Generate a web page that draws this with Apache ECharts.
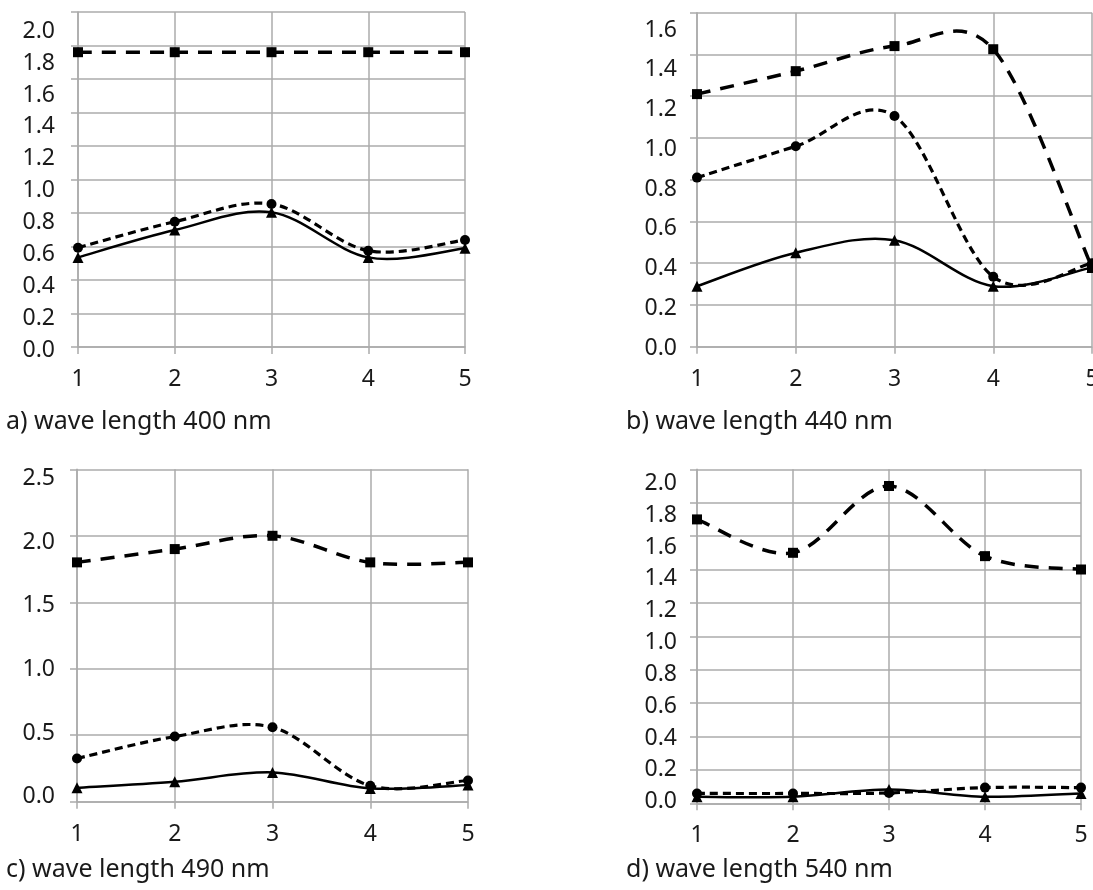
<!DOCTYPE html>
<html>
<head>
<meta charset="utf-8">
<script src="https://cdn.jsdelivr.net/npm/echarts@6/dist/echarts.min.js"></script>
<style>
html,body{margin:0;padding:0;background:#fff;}
#chart{width:1093px;height:890px;}
</style>
</head>
<body>
<div id="chart"></div>
<script>
// ---- data ----
const categories = ['1', '2', '3', '4', '5'];

const a_square   = [1.76, 1.76, 1.76, 1.76, 1.76];
const a_circle   = [0.593, 0.748, 0.854, 0.575, 0.639];
const a_triangle = [0.535, 0.698, 0.804, 0.535, 0.589];

const b_square   = [1.21, 1.32, 1.44, 1.425, 0.38];
const b_circle   = [0.81, 0.96, 1.105, 0.335, 0.40];
const b_triangle = [0.29, 0.45, 0.51, 0.29, 0.38];

const c_square   = [1.80, 1.90, 2.00, 1.80, 1.80];
const c_circle   = [0.325, 0.49, 0.56, 0.12, 0.16];
const c_triangle = [0.105, 0.15, 0.22, 0.10, 0.125];

const d_square   = [1.70, 1.50, 1.90, 1.48, 1.40];
const d_circle   = [0.059, 0.059, 0.062, 0.094, 0.094];
const d_triangle = [0.039, 0.039, 0.082, 0.039, 0.059];

const yTicksA = { min: 0, max: 2.0, interval: 0.2 };
const yTicksB = { min: 0, max: 1.6, interval: 0.2 };
const yTicksC = { min: 0, max: 2.5, interval: 0.5 };
const yTicksD = { min: 0, max: 2.0, interval: 0.2 };

const captions = ['a) wave length 400 nm', 'b) wave length 440 nm', 'c) wave length 490 nm', 'd) wave length 540 nm'];

// ---- layout ----
const FONT = 'Noto Sans';
const TEXT_COLOR = '#1a1a1a';
const GRID_COLOR = '#ababab';
const panels = [
  { grid: { left: 78,  top: 12,    width: 387, height: 335 },  labelGrid: { left: 78,  top: 31.3,  width: 387, height: 318.7 }, labelMargin: 23, ticks: yTicksA, data: [a_square, a_circle, a_triangle], cap: { x: 6,   y: 425 } },
  { grid: { left: 697, top: 12.7,  width: 395, height: 334 },  labelGrid: { left: 697, top: 30,    width: 395, height: 318.3 }, labelMargin: 20, ticks: yTicksB, data: [b_square, b_circle, b_triangle], cap: { x: 626, y: 425 } },
  { grid: { left: 77,  top: 469.3, width: 391, height: 332.4 },labelGrid: { left: 77,  top: 478.3, width: 391, height: 318.4 }, labelMargin: 22, ticks: yTicksC, data: [c_square, c_circle, c_triangle], cap: { x: 6,   y: 873 } },
  { grid: { left: 697, top: 469.3, width: 384, height: 334 },  labelGrid: { left: 697, top: 483.3, width: 384, height: 318.4 }, labelMargin: 20, ticks: yTicksD, data: [d_square, d_circle, d_triangle], cap: { x: 626, y: 873 } }
];

// Excel-like smoothed curve (Catmull-Rom bezier) drawn through the axis scales
function curveSeries(gi, vals, width, dash, z) {
  return {
    type: 'custom', xAxisIndex: gi, yAxisIndex: gi, z: z, silent: true,
    data: vals.map((v, k) => [k, v]),
    renderItem: function (params, api) {
      if (params.dataIndexInside !== 0) return null;
      const n = params.dataInsideLength;
      const pts = [];
      for (let j = 0; j < n; j++) pts.push(api.coord([api.value(0, j), api.value(1, j)]));
      let d = 'M' + pts[0][0] + ' ' + pts[0][1];
      for (let j = 0; j < n - 1; j++) {
        const p0 = pts[Math.max(j - 1, 0)], p1 = pts[j], p2 = pts[j + 1], p3 = pts[Math.min(j + 2, n - 1)];
        const c1x = p1[0] + (p2[0] - p0[0]) / 6, c1y = p1[1] + (p2[1] - p0[1]) / 6;
        const c2x = p2[0] - (p3[0] - p1[0]) / 6, c2y = p2[1] - (p3[1] - p1[1]) / 6;
        d += ' C' + c1x + ' ' + c1y + ' ' + c2x + ' ' + c2y + ' ' + p2[0] + ' ' + p2[1];
      }
      return {
        type: 'path',
        shape: { pathData: d },
        style: { fill: 'none', stroke: '#000', lineWidth: width, lineDash: dash, lineCap: 'butt' }
      };
    }
  };
}

function markerSeries(gi, vals, symbol, size, z) {
  return {
    type: 'line', xAxisIndex: gi, yAxisIndex: gi, data: vals, z: z, silent: true,
    symbol: symbol, symbolSize: size, showSymbol: true,
    itemStyle: { color: '#000' },
    lineStyle: { width: 0, opacity: 0 }
  };
}

const grids = [], xAxes = [], yAxes = [], series = [], graphics = [];

panels.forEach((p, i) => {
  const gi = grids.length;
  grids.push(Object.assign({ outerBoundsMode: 'none', containLabel: false }, p.grid));
  xAxes.push({
    type: 'category', gridIndex: gi, data: categories, boundaryGap: false,
    axisLine: { show: true, lineStyle: { color: GRID_COLOR, width: 1.5 } },
    axisTick: { show: true, length: 7, alignWithLabel: true, lineStyle: { color: GRID_COLOR, width: 1.5 } },
    axisLabel: { show: true, margin: 21, fontFamily: FONT, fontSize: 23, color: TEXT_COLOR },
    splitLine: { show: true, lineStyle: { color: GRID_COLOR, width: 1.5 } }
  });
  yAxes.push({
    type: 'value', gridIndex: gi, min: p.ticks.min, max: p.ticks.max, interval: p.ticks.interval,
    axisLine: { show: true, lineStyle: { color: GRID_COLOR, width: 1.5 } },
    axisTick: { show: true, length: 7, lineStyle: { color: GRID_COLOR, width: 1.5 } },
    axisLabel: { show: false },
    splitLine: { show: true, lineStyle: { color: GRID_COLOR, width: 1.5 } }
  });
  // label-only axis, placed as in the reference
  const li = grids.length;
  grids.push(Object.assign({ outerBoundsMode: 'none', containLabel: false }, p.labelGrid));
  xAxes.push({ type: 'category', gridIndex: li, data: categories, show: false });
  yAxes.push({
    type: 'value', gridIndex: li, min: p.ticks.min, max: p.ticks.max, interval: p.ticks.interval,
    axisLine: { show: false }, axisTick: { show: false }, splitLine: { show: false },
    axisLabel: { show: true, margin: p.labelMargin, fontFamily: FONT, fontSize: 23, color: TEXT_COLOR,
      formatter: v => v.toFixed(1) }
  });

  const [sq, ci, tr] = p.data;
  series.push(curveSeries(gi, tr, 2.5, null, 3));
  series.push(curveSeries(gi, ci, 3.2, [8, 5], 4));
  series.push(curveSeries(gi, sq, 3.5, [14, 10], 5));
  series.push(markerSeries(gi, tr, 'triangle', 11, 6));
  series.push(markerSeries(gi, ci, 'circle', 10, 6));
  series.push(markerSeries(gi, sq, 'rect', 10, 6));

  graphics.push({
    type: 'text', left: p.cap.x, top: p.cap.y - 16,
    style: { text: captions[i], font: '25px "Noto Sans"', fill: TEXT_COLOR }
  });
});

const chart = echarts.init(document.getElementById('chart'), null, { renderer: 'canvas' });
chart.setOption({
  animation: false,
  backgroundColor: '#ffffff',
  grid: grids,
  xAxis: xAxes,
  yAxis: yAxes,
  series: series,
  graphic: graphics
});
</script>
</body>
</html>
